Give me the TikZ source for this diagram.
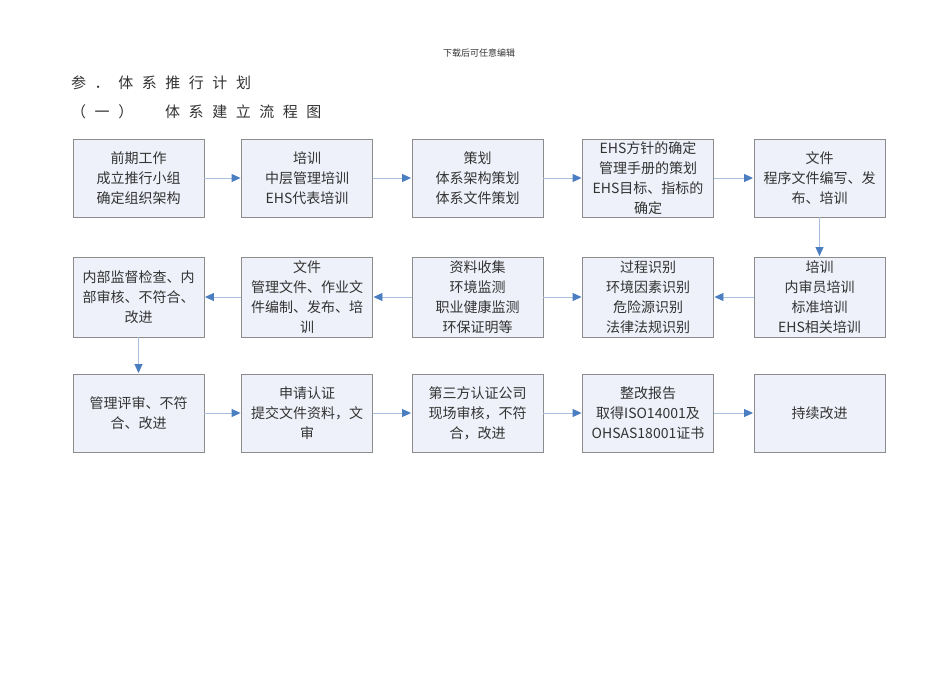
\documentclass[tikz,border=0pt]{standalone}
\usepackage{fontspec}
\usetikzlibrary{arrows.meta}
\newfontfamily\cjk{Noto Sans CJK SC}
\newfontfamily\cjkwide[LetterSpace=57]{Noto Sans CJK SC}
\definecolor{boxfill}{HTML}{EEF1F9}
\definecolor{boxline}{HTML}{8C8C8C}
\definecolor{arrline}{HTML}{A9BFDE}
\definecolor{arrtip}{HTML}{4A7EC0}
\definecolor{txt}{HTML}{333333}
\tikzset{
  stepbox/.style={draw=boxline, line width=0.9pt, fill=boxfill, minimum width=131pt, inner sep=0pt,
    align=center, text=txt, font=\cjk\fontsize{14}{20}\selectfont},
  arr/.style={draw=arrline, line width=0.9pt, -{Triangle[length=9pt,width=8pt,color=arrtip]}, shorten >=0.5pt}
}
\begin{document}
\begin{tikzpicture}[x=1pt,y=-1pt]
\useasboundingbox[fill=white] (0,0) rectangle (950,672);
\node[text=txt, font=\cjk\fontsize{9}{10}\selectfont] (hdr) at (479,53) {下载后可任意编辑};
\node[anchor=west, inner sep=0pt, text=txt, font=\cjkwide\fontsize{15}{18}\selectfont] (t1) at (71,83) {参．体系推行计划};
\node[anchor=west, inner sep=0pt, text=txt, font=\cjkwide\fontsize{15}{18}\selectfont] (t2a) at (71,112) {（一）};
\node[anchor=west, inner sep=0pt, text=txt, font=\cjkwide\fontsize{15}{18}\selectfont] (t2b) at (165,112) {体系建立流程图};
% row 1
\begin{scope}[every node/.append style={stepbox, minimum height=78pt}]
\node (a1) at (138.5,178) {前期工作\\成立推行小组\\确定组织架构};
\node (a2) at (307,178) {培训\\中层管理培训\\EHS代表培训};
\node (a3) at (477.5,178) {策划\\体系架构策划\\体系文件策划};
\node (a4) at (648,178) {EHS方针的确定\\管理手册的策划\\EHS目标、指标的\\确定};
\node (a5) at (819.5,178) {文件\\程序文件编写、发\\布、培训};
\end{scope}
% row 2
\begin{scope}[every node/.append style={stepbox, minimum height=80pt}]
\node (b5) at (819.5,297) {培训\\内审员培训\\标准培训\\EHS相关培训};
\node (b4) at (648,297) {过程识别\\环境因素识别\\危险源识别\\法律法规识别};
\node (b3) at (477.5,297) {资料收集\\环境监测\\职业健康监测\\环保证明等};
\node (b2) at (307,297) {文件\\管理文件、作业文\\件编制、发布、培\\训};
\node (b1) at (138.5,297) {内部监督检查、内\\部审核、不符合、\\改进};
\end{scope}
% row 3
\begin{scope}[every node/.append style={stepbox, minimum height=78pt}]
\node (c1) at (138.5,413) {管理评审、不符\\合、改进};
\node (c2) at (307,413) {申请认证\\提交文件资料，文\\审};
\node (c3) at (477.5,413) {第三方认证公司\\现场审核，不符\\合，改进};
\node (c4) at (648,413) {整改报告\\取得ISO14001及\\OHSAS18001证书};
\node (c5) at (819.5,413) {持续改进};
\end{scope}
\draw[arr] (a1) -- (a2);
\draw[arr] (a2) -- (a3);
\draw[arr] (a3) -- (a4);
\draw[arr] (a4) -- (a5);
\draw[arr] (a5) -- (b5);
\draw[arr] (b5) -- (b4);
\draw[arr] (b3) -- (b4);
\draw[arr] (b3) -- (b2);
\draw[arr] (b2) -- (b1);
\draw[arr] (b1) -- (c1);
\draw[arr] (c1) -- (c2);
\draw[arr] (c2) -- (c3);
\draw[arr] (c3) -- (c4);
\draw[arr] (c4) -- (c5);
\end{tikzpicture}
\end{document}
